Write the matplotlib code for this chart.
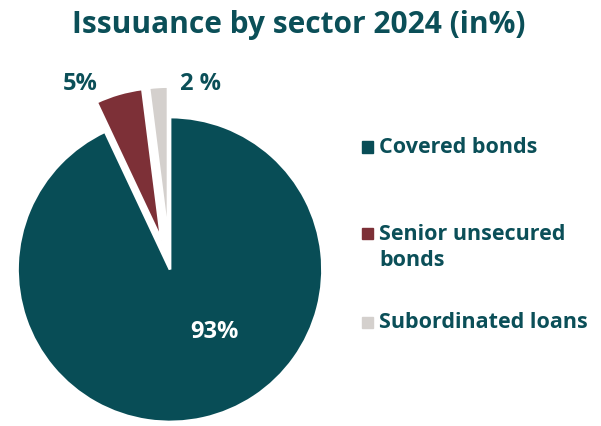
import matplotlib.pyplot as plt
from matplotlib.patches import Rectangle

sectors = ['Covered bonds', 'Senior unsecured\nbonds', 'Subordinated loans']
shares = [93, 5, 2]
share_labels = ['93%', '5%', '2 %']
colors = ['#084d56', '#7d3037', '#d4d0cd']
text_color = '#0b4f58'

plt.rcParams['font.family'] = ['Open Sans', 'DejaVu Sans']

fig = plt.figure(figsize=(6.01, 4.26), dpi=100)
W, H = 601, 426

# pie centre at (170, 269.5) px, radius 152.5 px -> axes spans 2.5 radii
cx, cy, r = 170, 269.5, 152.5
side = 2.5 * r
ax = fig.add_axes([(cx - side / 2) / W, (H - cy - side / 2) / H, side / W, side / H])
wedges, _ = ax.pie(shares, colors=colors, startangle=90, counterclock=False,
                   explode=[0, 0.2, 0.2],
                   wedgeprops=dict(edgecolor='white', linewidth=2))
for w in wedges:
    w.set_clip_on(False)
ax.set_xlim(-1.25, 1.25)
ax.set_ylim(-1.25, 1.25)
ax.set_aspect('equal')
ax.axis('off')


def px(x, y):
    # pixel position (from top-left) -> data coords of the pie axes
    return (x - cx) / r, (cy - y) / r


# value labels
label_pos = [(214, 332), (80, 83.5), (200, 83.5)]
label_col = ['white', text_color, text_color]
for txt, (lx, ly), col in zip(share_labels, label_pos, label_col):
    ax.text(*px(lx, ly), txt, color=col, fontsize=17, fontweight='bold',
            ha='center', va='center')

fig.text(299 / W, 1 - 33 / H, 'Issuuance by sector 2024 (in%)', color=text_color,
         fontsize=21.5, fontweight='bold', ha='center', va='baseline')

# legend drawn by hand: square top (px) and one baseline per text line
legend_rows = [(141.5, [153]), (228, [240, 266]), (316.5, [328])]
for (sq_top, baselines), name, col in zip(legend_rows, sectors, colors):
    fig.patches.append(Rectangle((362 / W, 1 - (sq_top + 11) / H), 11 / W, 11 / H,
                                 transform=fig.transFigure, color=col))
    for line, base_y in zip(name.split('\n'), baselines):
        fig.text(379 / W, 1 - base_y / H, line, color=text_color, fontsize=15.5,
                 fontweight='bold', ha='left', va='baseline')

fig.savefig('out.png', dpi=100)
